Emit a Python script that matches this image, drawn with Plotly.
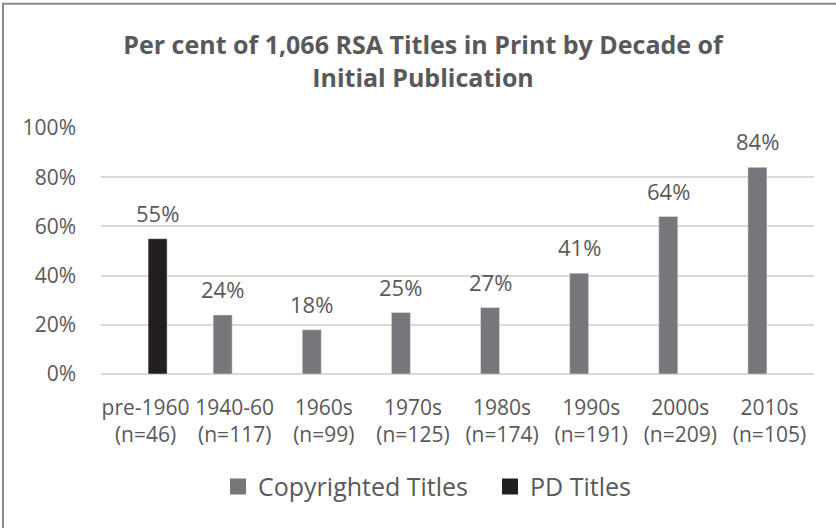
import plotly.graph_objects as go

categories = ["pre-1960<br>(n=46)", "1940-60<br>(n=117)", "1960s<br>(n=99)", "1970s<br>(n=125)",
              "1980s<br>(n=174)", "1990s<br>(n=191)", "2000s<br>(n=209)", "2010s<br>(n=105)"]
copyrighted = [None, 0.24, 0.18, 0.25, 0.27, 0.41, 0.64, 0.84]
pd_titles = [0.55, None, None, None, None, None, None, None]
y_ticks = [0, 0.2, 0.4, 0.6, 0.8, 1.0]

TXT = "#595959"
FONT = "Open Sans"
C_COPY = "#76777a"
C_PD = "#231f20"

fig = go.Figure()
fig.add_trace(go.Bar(x=categories, y=copyrighted, name="Copyrighted Titles",
                     marker=dict(color=C_COPY), showlegend=False))
fig.add_trace(go.Bar(x=categories, y=pd_titles, name="PD Titles",
                     marker=dict(color=C_PD), showlegend=False))
# legend entries (square swatches)
fig.add_trace(go.Scatter(x=[None], y=[None], mode="markers", name="Copyrighted Titles",
                         marker=dict(symbol="square", size=16, color=C_COPY, line=dict(width=0))))
fig.add_trace(go.Scatter(x=[None], y=[None], mode="markers", name="PD Titles",
                         marker=dict(symbol="square", size=16, color=C_PD, line=dict(width=0))))

# data labels, placed on the axes via the bar values
annotations = []
for series, shift in ((copyrighted, -12), (pd_titles, 12)):
    for cat, v in zip(categories, series):
        if v is None:
            continue
        annotations.append(dict(
            x=cat, y=v, xref="x", yref="y", text=f"{round(v*100)}%",
            showarrow=False, xanchor="center", yanchor="bottom",
            xshift=shift, yshift=9,
            font=dict(size=22, color=TXT, family=FONT),
        ))

fig.update_layout(
    width=836, height=528, autosize=False,
    margin=dict(l=101, r=22, t=128, b=154, pad=0),
    paper_bgcolor="white", plot_bgcolor="white",
    font=dict(family=FONT, color=TXT, size=21),
    barmode="group", bargap=0.46, bargroupgap=0.21,
    title=dict(
        text="<b>Per cent of 1,066 RSA Titles in Print by Decade of<br>Initial Publication</b>",
        x=0.506, xanchor="center", y=0.897, yanchor="top", yref="container",
        font=dict(size=25, color=TXT, family=FONT),
    ),
    legend=dict(
        orientation="h", x=(218 - 101) / 713, xanchor="left", y=-0.458, yanchor="middle",
        font=dict(size=25, color=TXT, family=FONT), itemsizing="trace",
        entrywidth=227, entrywidthmode="pixels",
        bgcolor="rgba(0,0,0,0)",
    ),
    xaxis=dict(showgrid=False, showline=False, zeroline=False, ticks="",
               tickfont=dict(size=21, color=TXT), ticklabelstandoff=19),
    yaxis=dict(range=[0, 1], tickvals=y_ticks, tickformat=".0%",
               showgrid=True, gridcolor="#d9d9d9", gridwidth=1.5,
               zeroline=True, zerolinecolor="#d9d9d9", zerolinewidth=1.5,
               showline=False, ticks="", ticklabelstandoff=24,
               tickfont=dict(size=21, color=TXT)),
    annotations=annotations,
    shapes=[dict(type="rect", xref="paper", yref="paper",
                 x0=(3 - 101) / 713, x1=1.2, y0=-0.9, y1=(373.5 - 4) / 245.5,
                 line=dict(color="#8a8a8a", width=2), fillcolor="rgba(0,0,0,0)", layer="below")],
)

fig.write_html("out.html")
